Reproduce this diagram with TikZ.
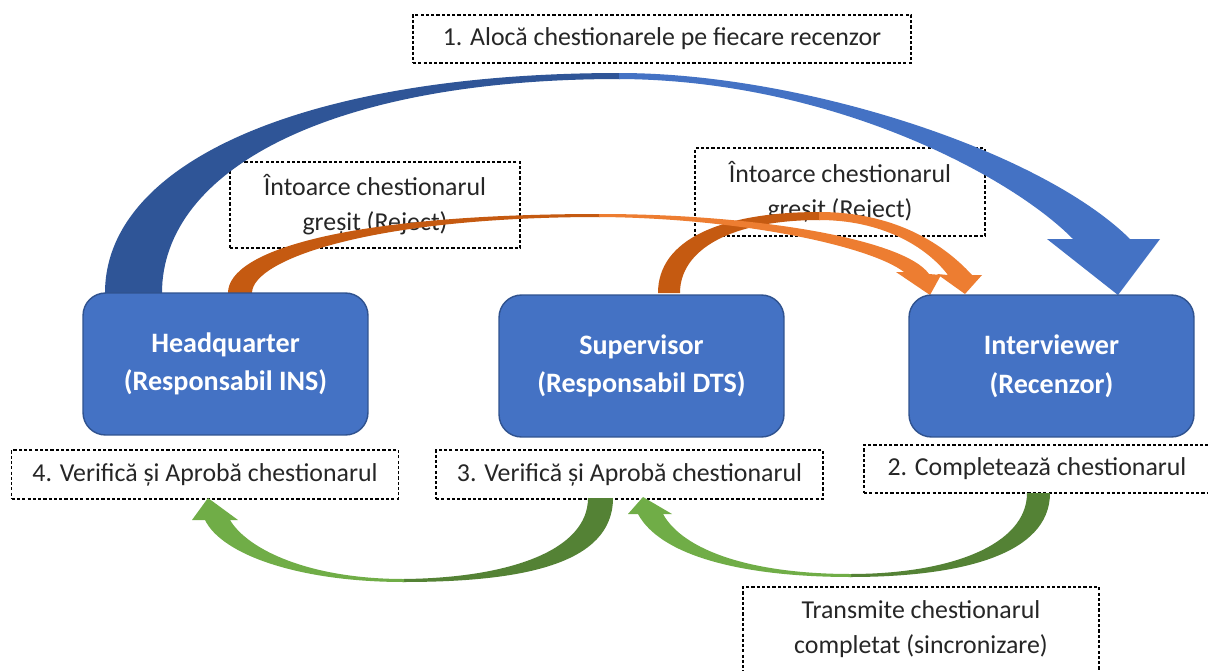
\documentclass[tikz,border=0pt]{standalone}
\usepackage{fontspec}
\setmainfont{Carlito}
\definecolor{blueA}{HTML}{4472C4}
\definecolor{blueD}{HTML}{2F5597}
\definecolor{blueB}{HTML}{2F528F}
\definecolor{orangeL}{HTML}{ED7D31}
\definecolor{orangeD}{HTML}{C55A11}
\definecolor{greenL}{HTML}{70AD47}
\definecolor{greenD}{HTML}{548235}
\definecolor{txt}{HTML}{262626}
\tikzset{
  role/.style={draw=blueB, line width=0.8pt, fill=blueA, rounded corners=0.45cm,
    minimum width=5.7cm, minimum height=2.84cm, align=center, text=white,
    font=\fontsize{16}{22}\selectfont\bfseries, inner sep=0pt},
  lbl/.style={draw=black, dash pattern=on 1.8pt off 1.2pt, line width=0.7pt,
    align=center, text=txt, font=\fontsize{14.7}{20}\selectfont, inner sep=0pt}
}
\begin{document}
\begin{tikzpicture}[x=0.02cm, y=-0.02cm]
\useasboundingbox (0,0) rectangle (1208,670);
\clip (0,0) rectangle (1208,670);
\fill[white] (0,0) rectangle (1208,670);

% dashed labels
\node[lbl, minimum width=9.96cm, minimum height=0.96cm] (l1) at (662,39) {1. Alocă chestionarele pe fiecare recenzor};
\node[lbl, minimum width=5.8cm, minimum height=1.72cm] (rejL) at (375,205) {Întoarce chestionarul\\greșit (Reject)};
\node[lbl, minimum width=5.8cm, minimum height=1.76cm] (rejR) at (840,192) {Întoarce chestionarul\\greșit (Reject)};
\node[lbl, minimum width=7.73cm, minimum height=0.98cm] (l4) at (205,474.5) {4. Verifică și Aprobă chestionarul};
\node[lbl, minimum width=7.74cm, minimum height=0.98cm] (l3) at (629.5,474.5) {3. Verifică și Aprobă chestionarul};
\node[lbl, minimum width=6.92cm, minimum height=0.96cm] (l2) at (1037,469) {2. Completează chestionarul};
\node[lbl, minimum width=7.12cm, minimum height=1.7cm] (tr) at (921,629.5) {Transmite chestionarul\\completat (sincronizare)};

% blue curved arrow (1)
\fill[blueD] (105,293) .. controls (105,160) and (310,73) .. (620,73) -- (620,79)
  .. controls (330,79) and (162,170) .. (162,293) -- cycle;
\fill[blueA] (619,73) .. controls (800,73) and (1040,150) .. (1130,239) -- (1160,239) -- (1118,295)
  -- (1047,239) -- (1073,239) .. controls (1010,175) and (830,80) .. (619,79) -- cycle;

% orange short arrow (Supervisor -> Interviewer)
\fill[orangeD] (658,293) .. controls (658,240) and (720,212) .. (820,212) -- (820,220)
  .. controls (730,220) and (680,250) .. (680,293) -- cycle;
\fill[orangeL] (819,212) .. controls (890,212) and (940,240) .. (972,275) -- (982,275) -- (965,294)
  -- (937,274) -- (948,275) .. controls (925,245) and (880,220) .. (819,220) -- cycle;

% orange long arrow (Headquarter -> Interviewer)
\fill[orangeD] (228,293) .. controls (228,250) and (350,214) .. (600,214) -- (600,217)
  .. controls (370,217) and (252,260) .. (252,293) -- cycle;
\fill[orangeL] (599,214) .. controls (760,214) and (905,240) .. (929,274) -- (941,275) -- (930,295)
  -- (896,272) -- (904,272) .. controls (870,246) and (740,218) .. (599,217) -- cycle;

% green arrow (3 -> 4)
\fill[greenD] (613,498) .. controls (613,565) and (520,582) .. (403,582) -- (403,579)
  .. controls (510,578) and (588,550) .. (588,498) -- cycle;
\fill[greenL] (404,582) .. controls (300,582) and (222,555) .. (205,520) -- (192,520) -- (208,498)
  -- (238,520) -- (230,520) .. controls (248,550) and (310,579) .. (404,579) -- cycle;

% green arrow (2 -> 3)
\fill[greenD] (1050,493) .. controls (1050,555) and (960,577) .. (850,577) -- (850,574)
  .. controls (950,574) and (1027,545) .. (1027,493) -- cycle;
\fill[greenL] (851,577) .. controls (740,577) and (660,555) .. (638,514) -- (628,514) -- (643,497)
  -- (672,514) -- (663,514) .. controls (683,550) and (750,574) .. (851,574) -- cycle;

% role nodes
\node[role] (hq) at (225.5,364) {Headquarter\\(Responsabil INS)};
\node[role] (sup) at (641.5,366) {Supervisor\\(Responsabil DTS)};
\node[role] (int) at (1051.5,366) {Interviewer\\(Recenzor)};
\end{tikzpicture}
\end{document}
